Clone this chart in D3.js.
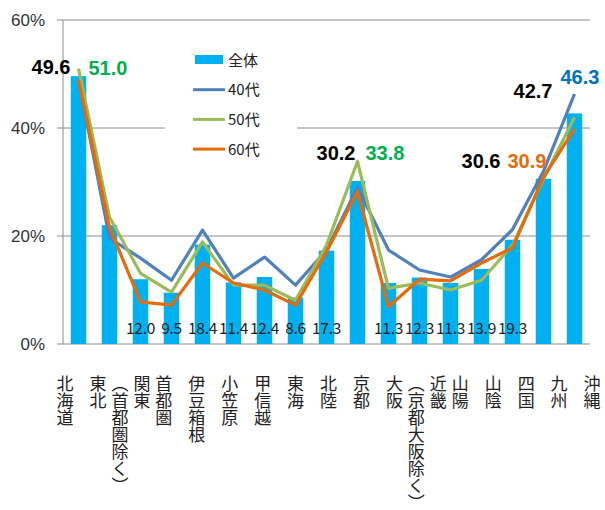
<!DOCTYPE html>
<html>
<head>
<meta charset="utf-8">
<title>地域別 比率</title>
<style>
  body { margin: 0; background: #fff; }
  svg { display: block; }
  text { font-family: "Liberation Sans", Arial, sans-serif; }
  .jp { font-family: "Noto Sans CJK JP", sans-serif; }
</style>
</head>
<body>
<svg></svg>
<script src="https://d3js.org/d3.v7.min.js"></script>
<script>
// data
var categories = ["北海道", "東北", "関東\n（首都圏除く）", "首都圏", "伊豆箱根", "小笠原", "甲信越", "東海",
  "北陸", "京都", "大阪", "近畿\n（京都大阪除く）", "山陽", "山陰", "四国", "九州", "沖縄"];
var total = [49.6, 22.0, 12.0, 9.5, 18.4, 11.4, 12.4, 8.6, 17.3, 30.2, 11.3, 12.3, 11.3, 13.9, 19.3, 30.6, 42.7];
var age40 = [49.0, 19.6, 15.9, 11.8, 21.1, 12.2, 16.1, 10.9, 17.4, 29.0, 17.4, 13.7, 12.4, 15.6, 21.2, 32.0, 46.3];
var age50 = [51.0, 23.5, 13.1, 9.6, 18.9, 10.9, 10.9, 8.1, 18.3, 33.8, 10.3, 11.3, 10.0, 11.8, 18.3, 30.5, 42.0];
var age60 = [48.9, 21.6, 7.8, 7.2, 15.0, 11.3, 10.0, 7.2, 17.1, 28.2, 6.9, 12.0, 11.7, 15.0, 17.8, 30.9, 39.8];
var yTicks = [0, 20, 40, 60];
var legendNames = ["全体", "40代", "50代", "60代"];

var width = 605, height = 510;
var svg = d3.select("svg").attr("width", width).attr("height", height);

var x = d3.scaleBand().domain(categories).range([63, 590]).paddingInner(0.5).paddingOuter(0.25);
var y = d3.scaleLinear().domain([0, 60]).range([344, 20]);
var labelX = d3.scalePoint().domain(categories).range([65, 592]);
var cx = function(c) { return x(c) + x.bandwidth() / 2; };

var lines = [
  {name: "40代", values: age40, color: "#4F81BD"},
  {name: "50代", values: age50, color: "#9BBB59"},
  {name: "60代", values: age60, color: "#E46C0A"}
];

// gridlines + y labels
svg.append("g").selectAll("line").data(yTicks).enter().append("line")
  .attr("x1", 57).attr("x2", 590)
  .attr("y1", function(d) { return y(d); }).attr("y2", function(d) { return y(d); })
  .attr("stroke", "#8c8c8c").attr("stroke-width", 1);
svg.append("line").attr("x1", 63).attr("x2", 63).attr("y1", y(60)).attr("y2", y(0))
  .attr("stroke", "#8c8c8c");
svg.append("g").selectAll("text").data(yTicks).enter().append("text")
  .attr("x", 45).attr("y", function(d) { return y(d) + 6; })
  .attr("text-anchor", "end").attr("font-size", 17).attr("fill", "#333")
  .text(function(d) { return d + "%"; });

// bars
svg.append("g").selectAll("rect").data(categories).enter().append("rect")
  .attr("x", function(d) { return x(d); })
  .attr("y", function(d, i) { return y(total[i]); })
  .attr("width", x.bandwidth())
  .attr("height", function(d, i) { return y(0) - y(total[i]); })
  .attr("fill", "#00B0F0");

// small value labels at the bottom of bars
var skipBottom = ["北海道", "東北", "京都", "九州", "沖縄"];
svg.append("g").selectAll("text").data(categories.filter(function(c) { return skipBottom.indexOf(c) < 0; }))
  .enter().append("text")
  .attr("class", "jp")
  .attr("x", cx).attr("y", 334)
  .attr("text-anchor", "middle").attr("font-size", 15.5).attr("fill", "#222")
  .attr("letter-spacing", -0.3)
  .text(function(c) { return total[categories.indexOf(c)].toFixed(1); });

// lines
var lineGen = d3.line()
  .x(function(d, i) { return cx(categories[i]); })
  .y(function(d) { return y(d); });
svg.append("g").selectAll("path").data(lines).enter().append("path")
  .attr("d", function(d) { return lineGen(d.values); })
  .attr("fill", "none")
  .attr("stroke", function(d) { return d.color; })
  .attr("stroke-width", 3.2)
  .attr("stroke-linejoin", "round");

// callout labels
var seriesValues = {"全体": total, "40代": age40, "50代": age50, "60代": age60};
var callouts = [
  {cat: "北海道", s: "全体", color: "#000", anchor: "end", dx: -8, dy: -2},
  {cat: "北海道", s: "50代", color: "#00B050", anchor: "start", dx: 10, dy: 6},
  {cat: "京都", s: "全体", color: "#000", anchor: "end", dx: -2, dy: -21},
  {cat: "京都", s: "50代", color: "#00B050", anchor: "start", dx: 8, dy: -1},
  {cat: "九州", s: "全体", color: "#000", anchor: "end", dx: -43, dy: -11},
  {cat: "九州", s: "60代", color: "#E46C0A", anchor: "start", dx: -36, dy: -9},
  {cat: "沖縄", s: "全体", color: "#000", anchor: "end", dx: -22, dy: -15},
  {cat: "沖縄", s: "40代", color: "#0070C0", anchor: "start", dx: -14, dy: -10}
];
svg.append("g").selectAll("text").data(callouts).enter().append("text")
  .attr("x", function(d) { return cx(d.cat) + d.dx; })
  .attr("y", function(d) { return y(seriesValues[d.s][categories.indexOf(d.cat)]) + d.dy; })
  .attr("text-anchor", function(d) { return d.anchor; })
  .attr("font-size", 20).attr("font-weight", "bold")
  .attr("fill", function(d) { return d.color; })
  .text(function(d) { return seriesValues[d.s][categories.indexOf(d.cat)].toFixed(1); });

// legend
var legend = svg.append("g");
legend.append("rect").attr("x", 165).attr("y", 40).attr("width", 132).attr("height", 125).attr("fill", "#fff");
var items = legend.selectAll("g").data(legendNames).enter().append("g")
  .attr("transform", function(d, i) { return "translate(195," + (60 + i * 29.7) + ")"; });
items.each(function(d, i) {
  var g = d3.select(this);
  if (i === 0) {
    g.append("rect").attr("x", 0).attr("y", -5).attr("width", 28).attr("height", 9).attr("fill", "#00B0F0");
  } else {
    g.append("line").attr("x1", -2).attr("x2", 30).attr("y1", 0).attr("y2", 0)
      .attr("stroke", lines[i - 1].color).attr("stroke-width", 3);
  }
  g.append("text").attr("class", "jp").attr("x", 33).attr("y", 5.5)
    .attr("font-size", 15).attr("fill", "#222").text(d);
});

// vertical category labels
var catG = svg.append("g").selectAll("g").data(categories).enter().append("g");
catG.each(function(c) {
  var cols = c.split("\n");
  var n = cols.length;
  var g = d3.select(this);
  cols.forEach(function(t, j) {
    g.append("text").attr("class", "jp")
      .attr("x", labelX(c) + ((n - 1) / 2 - j) * 22)
      .attr("y", 375)
      .style("writing-mode", "vertical-rl")
      .attr("font-size", 17).attr("fill", "#222")
      .text(t);
  });
});
</script>
</body>
</html>
